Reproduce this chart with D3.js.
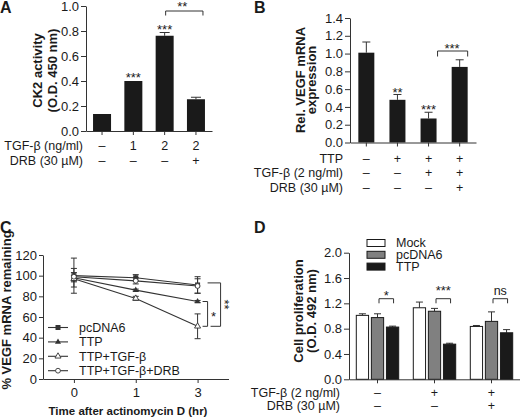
<!DOCTYPE html>
<html><head><meta charset="utf-8">
<script src="https://cdn.jsdelivr.net/npm/d3@7"></script>
<style>
body{margin:0;background:#fff}
svg{display:block}
text{font-family:Arial,"Liberation Sans",Helvetica,sans-serif;fill:#1a1a1a}
</style>
</head><body><svg id="c" width="520" height="418"></svg>
<script>
// ---------- Panel A data ----------
const aCats = ["ctrl", "tgf1", "tgf2", "tgf2drb"];
const aValues = [0.136, 0.40, 0.762, 0.254];
const aErrors = [0.0, 0.0, 0.026, 0.016];
const aTicks = [0, 0.2, 0.4, 0.6, 0.8, 1.0];
const aRowLabels = ["TGF-β (ng/ml)", "DRB (30 µM)"];
const aRowTGF = ["–", "1", "2", "2"];
const aRowDRB = ["–", "–", "–", "+"];
const aStars = ["", "***", "***", ""];
// ---------- Panel B data ----------
const bCats = ["ctrl", "ttp", "ttptgf", "ttptgfdrb"];
const bValues = [1.01, 0.48, 0.27, 0.85];
const bErrors = [0.12, 0.06, 0.07, 0.08];
const bTicks = [0, 0.2, 0.4, 0.6, 0.8, 1.0, 1.2, 1.4];
const bRowLabels = ["TTP", "TGF-β (2 ng/ml)", "DRB (30 µM)"];
const bRowTTP = ["–", "+", "+", "+"];
const bRowTGF = ["–", "–", "+", "+"];
const bRowDRB = ["–", "–", "–", "+"];
const bStars = ["", "**", "***", ""];
// ---------- Panel C data ----------
const cTimes = ["0", "1", "3"];
const cSeries = ["pcDNA6", "TTP", "TTP+TGF-β", "TTP+TGF-β+DRB"];
const cPcDNA6 = [100, 98, 91];
const cTTP = [98, 86, 75];
const cTTPTGF = [97, 78, 51];
const cTTPTGFDRB = [99, 95, 90];
const cPcDNA6Err = [17, 3, 8];
const cTTPErr = [9, 1, 1];
const cTTPTGFErr = [3, 2, 12];
const cTTPTGFDRBErr = [4, 3, 7];
const cTicks = [0, 20, 40, 60, 80, 100, 120];
// ---------- Panel D data ----------
const dGroups = ["g1", "g2", "g3"];
const dSeries = ["Mock", "pcDNA6", "TTP"];
const dMock = [1.01, 1.13, 0.835];
const dPcDNA6 = [0.975, 1.075, 0.915];
const dTTP = [0.825, 0.555, 0.735];
const dMockErr = [0.025, 0.09, 0.015];
const dPcDNA6Err = [0.06, 0.045, 0.15];
const dTTPErr = [0.015, 0.015, 0.05];
const dTicks = [0, 0.4, 0.8, 1.2, 1.6, 2.0];
const dRowLabels = ["TGF-β (2 ng/ml)", "DRB (30 µM)"];
const dRowTGF = ["–", "+", "+"];
const dRowDRB = ["–", "–", "+"];
const dStars = ["*", "***", "ns"];

const svg = d3.select("#c");
svg.append("rect").attr("width", 520).attr("height", 418).attr("fill", "#fff");
const AX = "#333", BAR = "#1a1a1a";

function styleAxis(g) {
  g.selectAll("path,line").attr("stroke", AX).attr("stroke-width", 1);
  g.selectAll("text").attr("font-size", 13).attr("fill", "#1a1a1a")
    .attr("font-family", 'Arial,"Liberation Sans",Helvetica,sans-serif');
}
function panelLabel(t, x, y) {
  svg.append("text").attr("x", x).attr("y", y).attr("font-size", 16).attr("font-weight", "bold").text(t);
}
function yLabel(lines, xs, cy, fs) {
  lines.forEach((t, i) => {
    svg.append("text").attr("transform", `translate(${xs[i]},${cy}) rotate(-90)`)
      .attr("text-anchor", "middle").attr("font-size", fs || 13).attr("font-weight", "bold").text(t);
  });
}
function stars(t, x, cy, fs) {
  fs = fs || 13;
  svg.append("text").attr("x", x).attr("y", cy + 0.58 * fs).attr("text-anchor", "middle")
    .attr("font-size", fs).text(t);
}
function bracket(x1, x2, y, leg) {
  svg.append("path").attr("d", `M${x1},${y + leg}V${y}H${x2}V${y + leg}`)
    .attr("fill", "none").attr("stroke", AX).attr("stroke-width", 1);
}
function rows(labels, rowVals, xFn, ys, xRight) {
  labels.forEach((l, i) => {
    svg.append("text").attr("x", xRight).attr("y", ys[i] + 4.4).attr("text-anchor", "end")
      .attr("font-size", 12.5).text(l);
    rowVals[i].forEach((v, j) => {
      svg.append("text").attr("x", xFn(j)).attr("y", ys[i] + 4.4).attr("text-anchor", "middle")
        .attr("font-size", 12.5).text(v);
    });
  });
}
function errBar(x, y0, y1, cap) {
  svg.append("path").attr("d", `M${x},${y0}V${y1}M${x - cap / 2},${y1}H${x + cap / 2}`)
    .attr("stroke", AX).attr("stroke-width", 1).attr("fill", "none");
}

// ================= Panel A =================
{
  const x = d3.scaleBand().domain(aCats).range([86, 212]).paddingInner(0.425).paddingOuter(0.225);
  const y = d3.scaleLinear().domain([0, 1]).range([131, 6]);
  aCats.forEach((c, i) => {
    if (aErrors[i] > 0) errBar(x(c) + x.bandwidth() / 2, y(aValues[i]), y(aValues[i] + aErrors[i]), 10);
  });
  svg.append("g").selectAll("rect").data(aCats).join("rect")
    .attr("x", d => x(d)).attr("width", x.bandwidth())
    .attr("y", (d, i) => y(aValues[i])).attr("height", (d, i) => y(0) - y(aValues[i]))
    .attr("fill", BAR);
  svg.append("g").attr("transform", "translate(86,0)")
    .call(d3.axisLeft(y).tickValues(aTicks).tickFormat(d3.format(".1f")).tickSize(5).tickPadding(2).tickSizeOuter(0))
    .call(styleAxis);
  svg.append("g").attr("transform", "translate(0,131)")
    .call(d3.axisBottom(x).tickSize(4).tickSizeOuter(0).tickFormat(""))
    .call(styleAxis);
  aCats.forEach((c, i) => { if (aStars[i]) stars(aStars[i], x(c) + x.bandwidth() / 2, i === 1 ? 74 : 26); });
  bracket(x(aCats[2]) + x.bandwidth() / 2 + 1, x(aCats[3]) + x.bandwidth() - 2, 11, 4.5);
  stars("**", (x(aCats[2]) + x(aCats[3]) + x.bandwidth()) / 2 + 2, 3);
  rows(aRowLabels, [aRowTGF, aRowDRB], j => x(aCats[j]) + x.bandwidth() / 2, [146, 161], 83);
  yLabel(["CK2 activity", "(O.D. 450 nm)"], [41.5, 56.5], 70.5);
  panelLabel("A", 0, 13);
}

// ================= Panel B =================
{
  const x = d3.scaleBand().domain(bCats).range([350, 476]).paddingInner(0.486).paddingOuter(0.268);
  const y = d3.scaleLinear().domain([0, 1.4]).range([142.5, 18]);
  bCats.forEach((c, i) => errBar(x(c) + x.bandwidth() / 2, y(bValues[i]), y(bValues[i] + bErrors[i]), 8));
  svg.append("g").selectAll("rect").data(bCats).join("rect")
    .attr("x", d => x(d)).attr("width", x.bandwidth())
    .attr("y", (d, i) => y(bValues[i])).attr("height", (d, i) => y(0) - y(bValues[i]))
    .attr("fill", BAR);
  svg.append("g").attr("transform", "translate(350,0)")
    .call(d3.axisLeft(y).tickValues(bTicks).tickFormat(d3.format(".1f")).tickSize(5).tickPadding(2).tickSizeOuter(0))
    .call(styleAxis);
  svg.append("g").attr("transform", "translate(0,142.5)")
    .call(d3.axisBottom(x).tickSize(4).tickSizeOuter(0).tickFormat(""))
    .call(styleAxis);
  stars(bStars[1], x(bCats[1]) + x.bandwidth() / 2, 89);
  stars(bStars[2], x(bCats[2]) + x.bandwidth() / 2, 106.5);
  bracket(x(bCats[2]) + x.bandwidth() + 1, x(bCats[3]) + x.bandwidth(), 51, 5.5);
  stars("***", (x(bCats[2]) + x(bCats[3])) / 2 + x.bandwidth(), 45);
  rows(bRowLabels, [bRowTTP, bRowTGF, bRowDRB], j => x(bCats[j]) + x.bandwidth() / 2, [159, 173, 188], 343);
  yLabel(["Rel. VEGF mRNA", "expression"], [304.5, 316], 80);
  panelLabel("B", 254, 13);
}

// ================= Panel C =================
{
  const x = d3.scalePoint().domain(cTimes).range([43, 228.5]).padding(0.5);
  const y = d3.scaleLinear().domain([0, 120]).range([379, 255]);
  const series = [
    { name: cSeries[0], v: cPcDNA6, e: cPcDNA6Err, m: "sq" },
    { name: cSeries[1], v: cTTP, e: cTTPErr, m: "tri" },
    { name: cSeries[2], v: cTTPTGF, e: cTTPTGFErr, m: "otri" },
    { name: cSeries[3], v: cTTPTGFDRB, e: cTTPTGFDRBErr, m: "ocirc" }
  ];
  const line = d3.line().x((d, i) => x(cTimes[i])).y(d => y(d));
  function marker(g, type, cx, cy) {
    if (type === "sq") g.append("rect").attr("x", cx - 2.5).attr("y", cy - 2.5).attr("width", 5).attr("height", 5).attr("fill", AX);
    else if (type === "tri" || type === "otri")
      g.append("path").attr("d", d3.symbol(d3.symbolTriangle, 16)()).attr("transform", `translate(${cx},${cy})`)
        .attr("fill", type === "tri" ? AX : "#fff").attr("stroke", AX).attr("stroke-width", type === "tri" ? 0 : 0.9);
    else g.append("circle").attr("cx", cx).attr("cy", cy).attr("r", 2.4).attr("fill", "#fff").attr("stroke", AX).attr("stroke-width", 0.9);
  }
  const g = svg.append("g");
  series.forEach(s => {
    s.v.forEach((v, i) => {
      const cx = x(cTimes[i]);
      g.append("path").attr("d", `M${cx},${y(v - s.e[i])}V${y(v + s.e[i])}M${cx - 3},${y(v - s.e[i])}H${cx + 3}M${cx - 3},${y(v + s.e[i])}H${cx + 3}`)
        .attr("stroke", AX).attr("stroke-width", 1).attr("fill", "none");
    });
  });
  series.forEach(s => {
    g.append("path").attr("d", line(s.v)).attr("fill", "none").attr("stroke", AX).attr("stroke-width", 1.1);
  });
  series.forEach(s => s.v.forEach((v, i) => marker(g, s.m, x(cTimes[i]), y(v))));
  svg.append("g").attr("transform", "translate(43,0)")
    .call(d3.axisLeft(y).tickValues(cTicks).tickSize(4).tickPadding(2).tickSizeOuter(0))
    .call(styleAxis);
  svg.append("g").attr("transform", "translate(0,379)")
    .call(d3.axisBottom(x).tickSize(4).tickPadding(5).tickSizeOuter(0))
    .call(styleAxis);
  // legend
  series.forEach((s, i) => {
    const ly = 327.5 + i * 14.4;
    const lg = svg.append("g");
    lg.append("line").attr("x1", 48).attr("x2", 68).attr("y1", ly).attr("y2", ly).attr("stroke", AX).attr("stroke-width", 1.1);
    marker(lg, s.m, 58, ly);
    lg.append("text").attr("x", 79).attr("y", ly + 4.4).attr("font-size", 12.5).text(s.name);
  });
  // significance
  const x3 = x("3");
  svg.append("path").attr("d", `M${x3 + 5},${y(cTTP[2])}H${x3 + 10}V${y(cTTPTGF[2])}H${x3 + 5}`)
    .attr("fill", "none").attr("stroke", AX).attr("stroke-width", 1);
  svg.append("path").attr("d", `M${x3 + 10},${y(93)}H${x3 + 23}V${y(cTTPTGF[2])}H${x3 + 13}`)
    .attr("fill", "none").attr("stroke", AX).attr("stroke-width", 1);
  stars("*", x3 + 16, (y(cTTP[2]) + y(cTTPTGF[2])) / 2);
  svg.append("text").attr("transform", `translate(${x3 + 30},${(y(93) + y(cTTPTGF[2])) / 2}) rotate(90)`)
    .attr("y", 7.5).attr("text-anchor", "middle").attr("font-size", 13).text("**");
  yLabel(["% VEGF mRNA remaining"], [10.5], 310);
  svg.append("text").attr("x", 128).attr("y", 415).attr("text-anchor", "middle")
    .attr("font-size", 11.5).attr("font-weight", "bold").text("Time after actinomycin D (hr)");
  panelLabel("C", 0, 233);
}

// ================= Panel D =================
{
  const x0 = d3.scaleBand().domain(dGroups).range([349, 520]).paddingInner(0.228).paddingOuter(0.114);
  const x1 = d3.scaleBand().domain(dSeries).range([0, x0.bandwidth()]).paddingInner(0.12).paddingOuter(0.02);
  const y = d3.scaleLinear().domain([0, 2]).range([379.3, 252.7]);
  const vals = [dMock, dPcDNA6, dTTP];
  const errs = [dMockErr, dPcDNA6Err, dTTPErr];
  const fills = ["#fff", "#808080", BAR];
  dGroups.forEach((gk, gi) => {
    dSeries.forEach((sk, si) => {
      const v = vals[si][gi];
      const bx = x0(gk) + x1(sk);
      errBar(bx + x1.bandwidth() / 2, y(v), y(v + errs[si][gi]), 7);
      svg.append("rect").attr("x", bx + 0.5).attr("width", x1.bandwidth() - 1)
        .attr("y", y(v)).attr("height", y(0) - y(v))
        .attr("fill", fills[si]).attr("stroke", BAR).attr("stroke-width", 1);
    });
    const c1 = x0(gk) + x1("pcDNA6") + x1.bandwidth() / 2 + 1.5;
    const c2 = x0(gk) + x1("TTP") + x1.bandwidth() / 2 + 1;
    bracket(c1, c2, 298.7, 4.6);
    if (dStars[gi] === "ns") {
      svg.append("text").attr("x", (c1 + c2) / 2).attr("y", 295).attr("text-anchor", "middle").attr("font-size", 12.5).text("ns");
    } else stars(dStars[gi], (c1 + c2) / 2, gi === 1 ? 287 : 292);
  });
  svg.append("g").attr("transform", "translate(349,0)")
    .call(d3.axisLeft(y).tickValues(dTicks).tickFormat(d3.format(".1f")).tickSize(5).tickPadding(2).tickSizeOuter(0))
    .call(styleAxis);
  svg.append("g").attr("transform", "translate(0,379.3)")
    .call(d3.axisBottom(x0).tickSize(4).tickSizeOuter(0).tickFormat(""))
    .call(styleAxis);
  // legend
  dSeries.forEach((s, i) => {
    const ly = 243 + i * 11.8;
    svg.append("rect").attr("x", 367).attr("y", ly - 3.5).attr("width", 18).attr("height", 7)
      .attr("fill", fills[i]).attr("stroke", BAR).attr("stroke-width", 1);
    svg.append("text").attr("x", 396).attr("y", ly + 4.4).attr("font-size", 12.5).text(s);
  });
  rows(dRowLabels, [dRowTGF, dRowDRB], j => x0(dGroups[j]) + x0.bandwidth() / 2, [392.7, 406], 340);
  yLabel(["Cell proliferation", "(O.D. 492 nm)"], [302.5, 316], 311);
  panelLabel("D", 254, 233);
}
</script>
</body></html>
